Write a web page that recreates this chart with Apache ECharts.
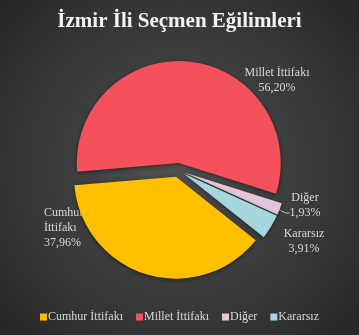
<!DOCTYPE html>
<html>
<head>
<meta charset="utf-8">
<script src="https://cdn.jsdelivr.net/npm/echarts@6/dist/echarts.min.js"></script>
<style>
html,body{margin:0;padding:0;background:#333;}
#chart{width:359px;height:335px;}
</style>
</head>
<body>
<div id="chart"></div>
<script>
// Data
var titleText = 'İzmir İli Seçmen Eğilimleri';
var categories = ['Cumhur İttifakı', 'Millet İttifakı', 'Diğer', 'Kararsız'];
var values = [37.96, 56.20, 1.93, 3.91];

var colors = ['#FFC000', '#F4515A', '#E3C6DB', '#A6D6DE'];
var serif = '"Liberation Serif", "DejaVu Serif", serif';

// label anchor positions (pixels) per slice
var labelPos = [
  {x: 44, y: 228, align: 'left'},
  {x: 277, y: 80, align: 'center'},
  {x: 305, y: 205, align: 'center'},
  {x: 304, y: 241, align: 'center'}
];

var chart = echarts.init(document.getElementById('chart'), null, {renderer: 'canvas'});

var pieData = categories.map(function (name, i) {
  return {name: name, value: values[i], selected: true, itemStyle: {color: colors[i]}};
});
var labelData = categories.map(function (name, i) {
  return {name: name, value: values[i], labelLine: {show: i === 2}};
});

var common = {
  type: 'pie',
  center: [178, 170],
  radius: 102,
  startAngle: -38.5,
  clockwise: true,
  emphasis: {disabled: true}
};

chart.setOption({
  animation: false,
  backgroundColor: {
    type: 'radial', x: 0.5, y: 0.5, r: 0.75,
    colorStops: [
      {offset: 0, color: '#525252'},
      {offset: 1, color: '#252525'}
    ]
  },
  title: {
    text: titleText,
    left: 'center',
    top: 6,
    textStyle: {
      color: '#f2f2f2',
      fontFamily: serif,
      fontWeight: 'bold',
      fontSize: 21
    }
  },
  legend: {
    data: categories.map(function (n, i) { return {name: n, itemStyle: {color: colors[i]}}; }),
    top: 306,
    left: 'center',
    icon: 'rect',
    itemWidth: 7,
    itemHeight: 7,
    itemGap: 13,
    selectedMode: false,
    textStyle: {color: '#d9d9d9', fontFamily: serif, fontSize: 12, padding: [0, 0, 0, -4]}
  },
  series: [
    Object.assign({}, common, {
      name: 'slices',
      z: 3,
      selectedMode: 'multiple',
      selectedOffset: 7,
      label: {show: false},
      labelLine: {show: false},
      itemStyle: {
        shadowBlur: 4,
        shadowColor: 'rgba(0,0,0,0.55)',
        shadowOffsetY: 1
      },
      data: pieData
    }),
    Object.assign({}, common, {
      name: 'labels',
      z: 2,
      silent: true,
      selectedMode: false,
      itemStyle: {color: 'rgba(0,0,0,0)'},
      label: {
        show: true,
        position: 'outside',
        color: '#d9d9d9',
        fontFamily: serif,
        fontSize: 12,
        lineHeight: 15,
        formatter: function (p) {
          var name = p.dataIndex === 0 ? p.name.replace(' ', '\n') : p.name;
          return name + '\n' + p.value.toFixed(2).replace('.', ',') + '%';
        }
      },
      labelLine: {
        show: true,
        length: 4,
        length2: 6,
        lineStyle: {color: '#bfbfbf', width: 1}
      },
      labelLayout: function (params) {
        var i = params.dataIndex;
        var lp = labelPos[i];
        var out = {x: lp.x, y: lp.y, align: lp.align, verticalAlign: 'middle'};
        if (i === 2 && params.labelLinePoints) {
          var p0 = params.labelLinePoints[0];
          var left = lp.x - params.labelRect.width / 2;
          var yb = lp.y + 8;
          out.labelLinePoints = [p0, [left - 4, yb], [left, yb]];
        }
        return out;
      },
      data: labelData
    })
  ]
});
</script>
</body>
</html>
